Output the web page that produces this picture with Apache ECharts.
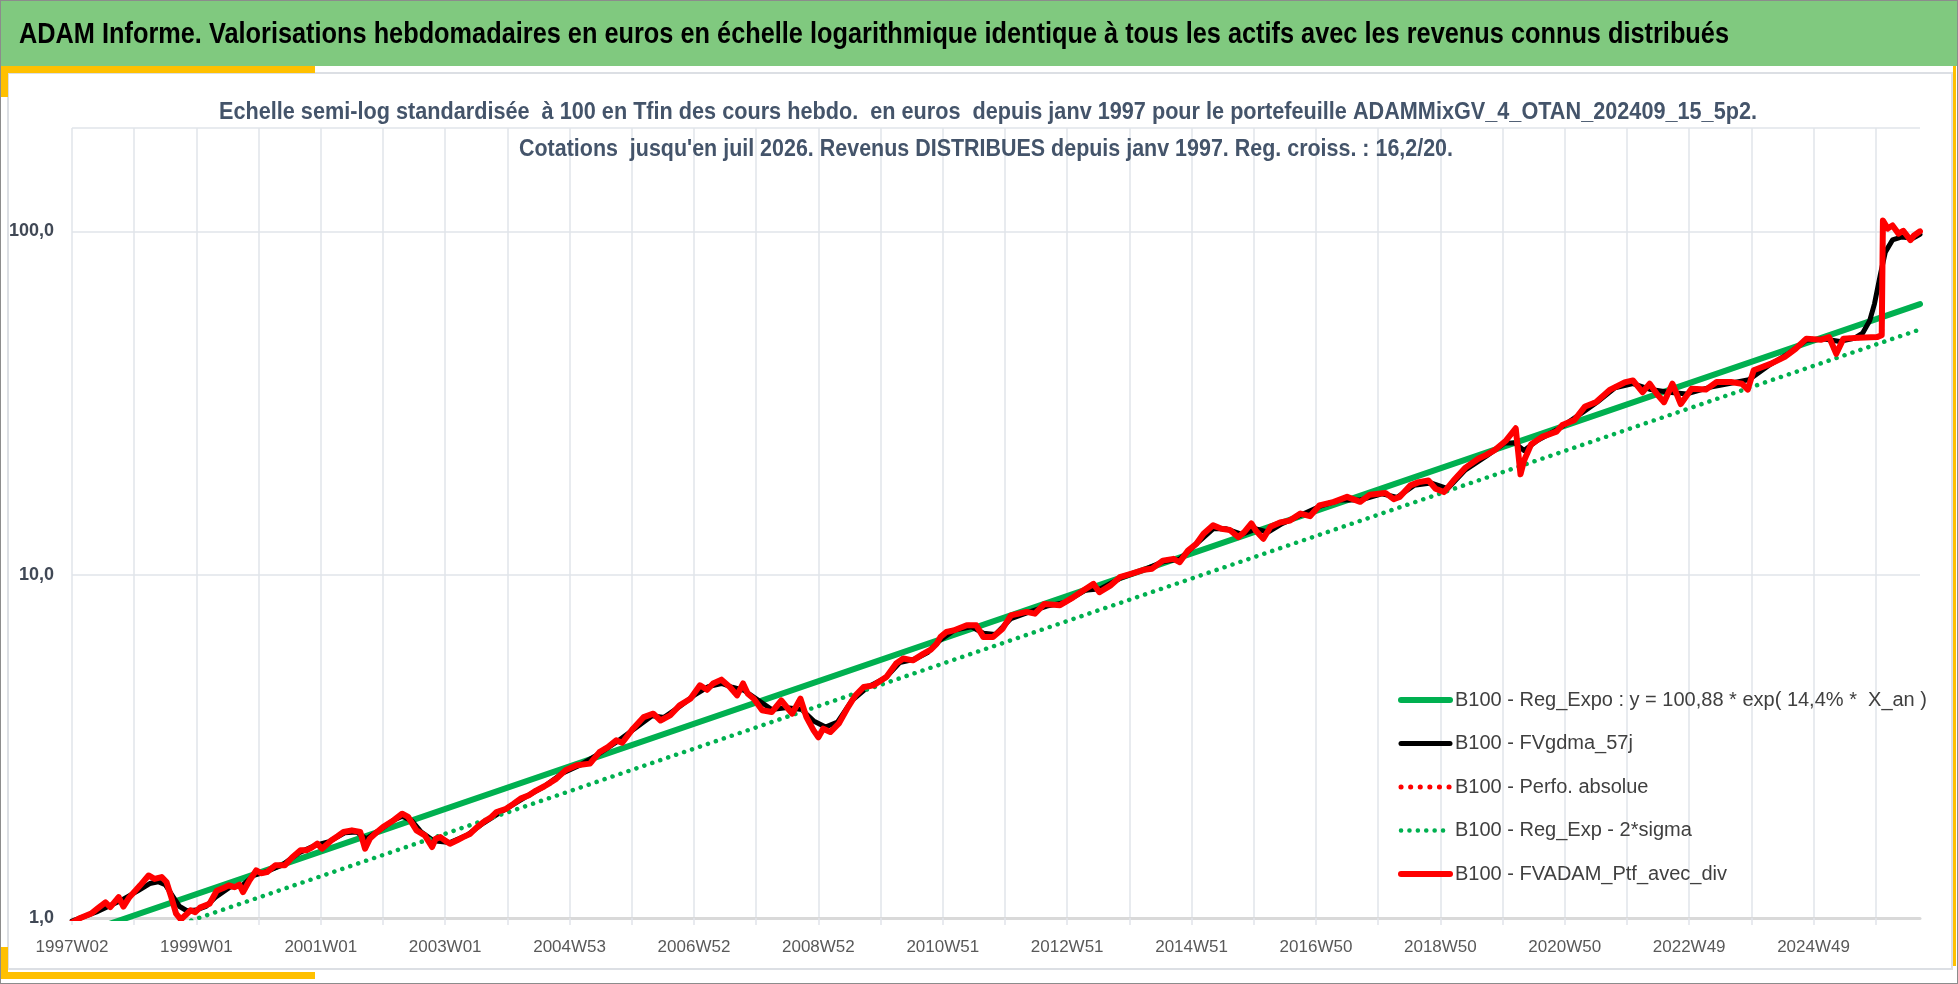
<!DOCTYPE html>
<html>
<head>
<meta charset="utf-8">
<title>ADAM Informe</title>
<script src="https://cdn.jsdelivr.net/npm/echarts@6/dist/echarts.min.js"></script>
<style>
  html, body { margin: 0; padding: 0; background: #fff; }
  #chart { width: 1958px; height: 984px; }
</style>
</head>
<body>
<div id="chart"></div>
<script>
// semaines depuis 1997W02 (index), une etiquette toutes les 104 semaines
var tickLabels = ['1997W02', '1999W01', '2001W01', '2003W01', '2004W53', '2006W52', '2008W52',
  '2010W51', '2012W51', '2014W51', '2016W50', '2018W50', '2020W50', '2022W49', '2024W49'];
var lastWeek = 1545;

// B100 - FVADAM_Ptf_avec_div  [semaine, valeur]
var ptfAvecDiv = [[0,0.97],[7,1.0],[16,1.03],[22,1.07],[28,1.11],[32,1.076],[39,1.15],[43,1.08],[48,1.15],
  [57,1.245],[64,1.33],[69,1.30],[75,1.316],[79,1.273],[83,1.15],[87,1.03],[91,0.99],[95,1.02],[99,1.053],
  [103,1.04],[107,1.072],[115,1.10],[121,1.20],[126,1.22],[131,1.245],[136,1.23],[140,1.25],[143,1.19],
  [148,1.28],[154,1.377],[158,1.35],[163,1.36],[170,1.424],[178,1.424],[184,1.50],[191,1.575],[196,1.575],
  [200,1.60],[205,1.646],[209,1.592],[217,1.684],[222,1.73],[227,1.78],[234,1.80],[241,1.78],[245,1.592],
  [249,1.703],[255,1.78],[260,1.84],[269,1.927],[276,2.013],[281,1.97],[288,1.80],[295,1.74],[301,1.61],
  [304,1.70],[308,1.72],[312,1.68],[316,1.646],[322,1.684],[327,1.72],[333,1.76],[338,1.83],[344,1.903],
  [350,1.96],[355,2.036],[363,2.08],[369,2.15],[375,2.227],[382,2.277],[388,2.35],[395,2.42],[400,2.48],
  [405,2.546],[413,2.70],[422,2.785],[433,2.816],[441,3.043],[448,3.147],[455,3.292],[460,3.24],[469,3.56],
  [478,3.848],[486,3.937],[492,3.76],[500,3.89],[508,4.163],[517,4.353],[525,4.762],[531,4.62],[536,4.82],
  [543,4.946],[550,4.71],[556,4.45],[561,4.82],[565,4.50],[570,4.353],[577,4.03],[585,3.98],[593,4.30],
  [602,3.937],[609,4.353],[614,3.848],[620,3.52],[624,3.36],[628,3.56],[634,3.48],[641,3.68],[648,4.07],
  [655,4.45],[662,4.71],[670,4.76],[681,5.04],[689,5.51],[695,5.70],[703,5.63],[712,5.89],[718,6.05],
  [723,6.30],[726,6.58],[731,6.81],[737,6.88],[748,7.12],[756,7.12],[762,6.58],[770,6.58],[778,6.96],
  [785,7.61],[798,7.79],[805,7.70],[813,8.22],[826,8.15],[837,8.59],[847,9.07],[854,9.40],[859,8.89],
  [868,9.29],[876,9.83],[886,10.07],[896,10.33],[903,10.41],[912,10.99],[921,11.12],[926,10.87],[933,11.75],
  [940,12.31],[946,13.15],[954,13.92],[961,13.6],[968,13.5],[975,12.87],[980,13.3],[986,14.1],[990,13.4],
  [996,12.72],[1002,13.8],[1010,14.19],[1018,14.37],[1027,15.06],[1035,14.8],[1043,15.92],[1055,16.3],
  [1066,16.85],[1077,16.3],[1085,17.1],[1098,17.3],[1105,16.6],[1110,16.85],[1119,18.2],[1126,18.6],
  [1134,18.8],[1140,17.8],[1147,17.4],[1155,18.8],[1165,20.5],[1176,21.8],[1182,22.3],[1189,23.0],
  [1199,24.6],[1207,26.7],[1211,19.6],[1214,21.5],[1220,24.0],[1229,25.2],[1241,26.1],[1246,27.3],
  [1256,28.2],[1265,30.9],[1274,31.8],[1286,34.6],[1298,36.3],[1305,36.8],[1313,34.0],[1319,36.0],
  [1325,33.6],[1331,31.8],[1338,36.0],[1345,31.4],[1354,34.8],[1366,34.6],[1375,36.4],[1387,36.4],
  [1396,36.0],[1401,34.6],[1406,39.4],[1420,41.1],[1432,43.1],[1441,45.5],[1450,48.7],[1462,48.3],
  [1469,49.2],[1475,44.0],[1481,48.7],[1494,49.0],[1509,49.2],[1513,49.8],[1514,107.6],[1518,101.9],
  [1522,104.0],[1527,98.5],[1531,100.4],[1537,94.3],[1540,97.3],[1545,100]];

// B100 - Perfo. absolue (confondue avec la courbe du portefeuille)
var perfoAbsolue = ptfAvecDiv;

// B100 - FVgdma_57j (moyenne lissee)
var fvGdma = [[0,0.98],[20,1.04],[40,1.12],[55,1.2],[65,1.26],[72,1.275],[78,1.25],[84,1.16],[90,1.08],
  [96,1.05],[104,1.055],[112,1.08],[120,1.15],[132,1.23],[142,1.24],[152,1.33],[164,1.37],[176,1.43],
  [190,1.55],[204,1.63],[215,1.67],[228,1.77],[238,1.78],[246,1.70],[256,1.79],[268,1.92],[276,1.98],
  [284,1.92],[292,1.78],[302,1.68],[316,1.66],[330,1.74],[344,1.89],[360,2.05],[378,2.24],[395,2.42],
  [410,2.64],[425,2.79],[440,3.0],[455,3.25],[470,3.55],[485,3.88],[495,3.84],[508,4.13],[520,4.45],
  [532,4.72],[543,4.82],[552,4.70],[562,4.6],[572,4.35],[585,4.05],[598,4.1],[610,4.05],[620,3.75],
  [630,3.6],[640,3.72],[652,4.3],[665,4.7],[680,5.0],[692,5.55],[705,5.68],[715,5.92],[726,6.45],
  [738,6.9],[752,7.05],[762,6.75],[772,6.7],[785,7.45],[800,7.78],[815,8.1],[830,8.3],[847,9.0],
  [860,9.1],[876,9.75],[895,10.3],[912,10.9],[926,11.1],[940,12.3],[954,13.6],[965,13.6],[978,13.1],
  [990,13.6],[1000,13.3],[1012,14.1],[1027,14.9],[1043,15.8],[1060,16.5],[1077,16.5],[1095,17.2],
  [1108,16.8],[1122,18.2],[1136,18.5],[1150,17.8],[1165,20.2],[1182,22.1],[1198,24.2],[1206,24.2],
  [1214,23.0],[1225,24.6],[1243,26.6],[1260,29.2],[1275,31.8],[1290,35.0],[1305,36.0],[1320,34.6],
  [1335,34.0],[1350,33.6],[1370,35.2],[1390,36.3],[1402,37.0],[1420,41.0],[1435,44.0],[1450,48.2],
  [1465,48.6],[1478,47.8],[1490,48.8],[1497,50.5],[1503,55],[1507,61.6],[1512,75.3],[1516,87],
  [1522,94.4],[1530,96.3],[1539,95.5],[1545,98]];

// B100 - Reg_Expo et Reg_Exp - 2*sigma (droites en semi-log)
var regExpo = [[0,0.882],[1545,61.4]];
var regExpMoins2Sigma = [[0,0.748],[1545,51.8]];

var seriesNames = ['B100 - Reg_Expo : y = 100,88 * exp( 14,4% *  X_an )', 'B100 - FVgdma_57j',
  'B100 - Perfo. absolue', 'B100 - Reg_Exp - 2*sigma', 'B100 - FVADAM_Ptf_avec_div'];

var bandeau = 'ADAM Informe. Valorisations hebdomadaires en euros en échelle logarithmique identique à tous les actifs avec les revenus connus distribués';
var sousTitre1 = 'Echelle semi-log standardisée  à 100 en Tfin des cours hebdo.  en euros  depuis janv 1997 pour le portefeuille ADAMMixGV_4_OTAN_202409_15_5p2.';
var sousTitre2 = 'Cotations  jusqu\'en juil 2026. Revenus DISTRIBUES depuis janv 1997. Reg. croiss. : 16,2/20.';

var police = "'Liberation Sans', Arial, sans-serif";
var grisGrille = '#E1E4EA';

// facteur d'echelle horizontale pour imiter une police etroite
function echelle(text, font, largeur) {
  var ctx = document.createElement('canvas').getContext('2d');
  ctx.font = font;
  return largeur / ctx.measureText(text).width;
}

var fBandeau = 'bold 30px ' + police;
var fSous = 'bold 23px ' + police;

var chart = echarts.init(document.getElementById('chart'), null, { renderer: 'canvas' });

function ligne(name, data, color, width, type, z) {
  return {
    name: name, type: 'line', data: data, showSymbol: false, symbol: 'none',
    lineStyle: { color: color, width: width, type: type, cap: 'round', join: 'round' },
    itemStyle: { color: color }, z: z, silent: true, animation: false
  };
}

var option = {
  animation: false,
  backgroundColor: '#fff',
  graphic: [
    { type: 'rect', shape: { x: 0, y: 0, width: 1958, height: 984 }, style: { fill: '#fff', stroke: '#8C8C8C', lineWidth: 2 }, z: -10 },
    { type: 'rect', shape: { x: 1, y: 1, width: 1956, height: 65 }, style: { fill: '#80C97F' }, z: -9 },
    { type: 'rect', shape: { x: 8, y: 73, width: 1944, height: 896 }, style: { fill: 'none', stroke: '#DCDFE4', lineWidth: 2 }, z: -9 },
    { type: 'rect', shape: { x: 1, y: 66, width: 314, height: 7 }, style: { fill: '#FFC000' }, z: -8 },
    { type: 'rect', shape: { x: 1, y: 66, width: 7, height: 31 }, style: { fill: '#FFC000' }, z: -8 },
    { type: 'rect', shape: { x: 1, y: 972, width: 314, height: 7 }, style: { fill: '#FFC000' }, z: -8 },
    { type: 'rect', shape: { x: 1, y: 947, width: 7, height: 32 }, style: { fill: '#FFC000' }, z: -8 },
    { type: 'rect', shape: { x: 1953, y: 66, width: 3, height: 900 }, style: { fill: '#FFC000' }, z: -8 },
    {
      type: 'text', x: 19, y: 35, scaleX: echelle(bandeau, fBandeau, 1710), z: 10,
      style: { text: bandeau, font: fBandeau, fill: '#000', textVerticalAlign: 'middle' }
    },
    {
      type: 'text', x: 988, y: 113, scaleX: echelle(sousTitre1, fSous, 1538), z: 10,
      style: { text: sousTitre1, font: fSous, fill: '#44546A', textAlign: 'center', textVerticalAlign: 'middle' }
    },
    {
      type: 'text', x: 986, y: 150, scaleX: echelle(sousTitre2, fSous, 934), z: 10,
      style: { text: sousTitre2, font: fSous, fill: '#44546A', textAlign: 'center', textVerticalAlign: 'middle' }
    }
  ],
  legend: {
    orient: 'vertical', left: 1398, top: 690, padding: 0,
    itemWidth: 49, itemHeight: 14, itemGap: 23.5,
    selectedMode: false,
    data: seriesNames,
    lineStyle: { width: 'inherit' },
    itemStyle: { opacity: 0 },
    textStyle: { fontFamily: police, fontSize: 20, lineHeight: 20, color: '#404040' }
  },
  grid: { left: 72, right: 38, top: 128, bottom: 66, containLabel: false, outerBoundsMode: 'none' },
  xAxis: {
    type: 'value', min: 0, max: lastWeek, interval: 52,
    axisLine: { show: true, onZero: false, lineStyle: { color: '#D9D9D9', width: 3 } },
    axisTick: { show: true, length: 7, lineStyle: { color: grisGrille, width: 1.5 } },
    splitLine: { show: true, showMaxLine: false, lineStyle: { color: grisGrille, width: 1.5 } },
    axisLabel: {
      margin: 21, fontFamily: police, fontSize: 17, color: '#595959', showMaxLabel: false,
      formatter: function (v) { return v % 104 === 0 ? (tickLabels[v / 104] || '') : ''; }
    }
  },
  yAxis: {
    type: 'log', logBase: 10, min: 1, max: 200,
    axisLine: { show: false }, axisTick: { show: false },
    splitLine: { show: true, lineStyle: { color: grisGrille, width: 1.5 } },
    axisLabel: {
      margin: 18, fontFamily: police, fontSize: 18, fontWeight: 'bold', color: '#404855',
      formatter: function (v) {
        var p = Math.log10(v);
        if (Math.abs(p - Math.round(p)) > 1e-9) return '';
        return v.toFixed(1).replace('.', ',');
      }
    }
  },
  series: [
    ligne(seriesNames[0], regExpo, '#00B050', 6, 'solid', 2),
    ligne(seriesNames[1], fvGdma, '#000000', 5, 'solid', 3),
    ligne(seriesNames[2], perfoAbsolue, '#FF0000', 5, [0.1, 9.5], 4),
    ligne(seriesNames[3], regExpMoins2Sigma, '#00B050', 4.5, [0.1, 8.3], 4),
    ligne(seriesNames[4], ptfAvecDiv, '#FF0000', 6, 'solid', 5)
  ]
};

chart.setOption(option);
</script>
</body>
</html>
